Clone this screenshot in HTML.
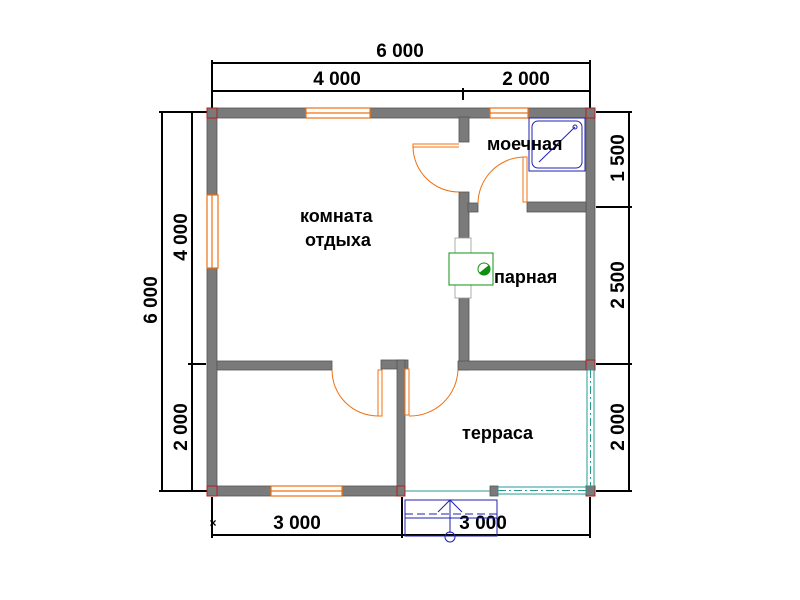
<!DOCTYPE html>
<html><head><meta charset="utf-8"><style>
html,body{margin:0;padding:0;background:#fff;width:800px;height:600px;overflow:hidden}
svg text{font-family:"Liberation Sans",Arial,sans-serif;font-weight:bold;fill:#000}
</style></head><body>
<svg width="800" height="600" viewBox="0 0 800 600" xmlns="http://www.w3.org/2000/svg">
<g stroke="#000" stroke-width="2" fill="none">
<line x1="211" y1="63" x2="591" y2="63"/>
<line x1="211" y1="91" x2="591" y2="91"/>
<line x1="212" y1="60" x2="212" y2="108"/>
<line x1="590" y1="60" x2="590" y2="108"/>
<line x1="463" y1="88" x2="463" y2="100"/>
<line x1="162" y1="111" x2="162" y2="492"/>
<line x1="192" y1="111" x2="192" y2="492"/>
<line x1="159" y1="112" x2="208" y2="112"/>
<line x1="159" y1="491" x2="208" y2="491"/>
<line x1="188" y1="364" x2="206" y2="364"/>
<line x1="629" y1="111" x2="629" y2="492"/>
<line x1="596" y1="112" x2="632" y2="112"/>
<line x1="596" y1="207" x2="632" y2="207"/>
<line x1="596" y1="364" x2="632" y2="364"/>
<line x1="596" y1="491" x2="632" y2="491"/>
<line x1="211" y1="535" x2="591" y2="535"/>
<line x1="212" y1="497" x2="212" y2="538"/>
<line x1="402" y1="497" x2="402" y2="538"/>
<line x1="590" y1="497" x2="590" y2="538"/>
</g>
<text x="400" y="57" font-size="19" text-anchor="middle">6 000</text>
<text x="337" y="85" font-size="19" text-anchor="middle">4 000</text>
<text x="526" y="85" font-size="19" text-anchor="middle">2 000</text>
<text x="297" y="529" font-size="19" text-anchor="middle">3 000</text>
<text x="483" y="529" font-size="19" text-anchor="middle">3 000</text>
<text x="213" y="527" font-size="12" text-anchor="middle" font-weight="normal">×</text>
<text transform="translate(157,300) rotate(-90)" font-size="19" text-anchor="middle">6 000</text>
<text transform="translate(187,237) rotate(-90)" font-size="19" text-anchor="middle">4 000</text>
<text transform="translate(187,427) rotate(-90)" font-size="19" text-anchor="middle">2 000</text>
<text transform="translate(624,158) rotate(-90)" font-size="19" text-anchor="middle">1 500</text>
<text transform="translate(624,285) rotate(-90)" font-size="19" text-anchor="middle">2 500</text>
<text transform="translate(624,427) rotate(-90)" font-size="19" text-anchor="middle">2 000</text>
<g fill="#7a7a7a" stroke="#555" stroke-width="0.8">
<rect x="207" y="108" width="99" height="10"/>
<rect x="370" y="108" width="120" height="10"/>
<rect x="528" y="108" width="67" height="10"/>
<rect x="207" y="108" width="10" height="87"/>
<rect x="207" y="268" width="10" height="228"/>
<rect x="586" y="108" width="9" height="262"/>
<rect x="459" y="117" width="10" height="25"/>
<rect x="459" y="192" width="10" height="178"/>
<rect x="468" y="203" width="10" height="9"/>
<rect x="527" y="202" width="59" height="10"/>
<rect x="217" y="361" width="115" height="9"/>
<rect x="381" y="360" width="27" height="9"/>
<rect x="458" y="361" width="128" height="9"/>
<rect x="397" y="360" width="8" height="136"/>
<rect x="207" y="486" width="64" height="10"/>
<rect x="342" y="486" width="63" height="10"/>
<rect x="490" y="486" width="8" height="10"/>
<rect x="586" y="486" width="9" height="10"/>
</g>
<g stroke="#b02020" stroke-width="1" fill="none">
<rect x="207" y="108" width="10" height="10"/><rect x="586" y="108" width="9" height="10"/>
<rect x="207" y="486" width="10" height="10"/><rect x="586" y="360" width="9" height="10"/>
<rect x="586" y="486" width="9" height="10"/><rect x="397" y="486" width="8" height="10"/>
</g>
<g fill="#fff" stroke="#f07010" stroke-width="1.2">
<rect x="306" y="108" width="64" height="10"/><line x1="306" y1="113" x2="370" y2="113"/>
<rect x="490" y="108" width="38" height="10"/><line x1="490" y1="113" x2="528" y2="113"/>
<rect x="207" y="195" width="11" height="73"/><line x1="212" y1="195" x2="212" y2="268"/>
<rect x="271" y="486" width="71" height="10"/><line x1="271" y1="491" x2="342" y2="491"/>
</g>
<g fill="none" stroke="#f07010" stroke-width="1">
<path d="M459 144 L413 144 L413 147 L459 147"/>
<path d="M413 147 A46 46 0 0 0 459 192"/>
<rect x="523" y="157" width="4" height="45"/>
<path d="M523 157 A47 47 0 0 0 478 204"/>
<rect x="378" y="370" width="4" height="46"/>
<path d="M332 370 A46 46 0 0 0 378 416"/>
<rect x="405" y="369" width="4" height="46"/>
<path d="M458 370 A48 48 0 0 1 409 416"/>
</g>
<rect x="529" y="118" width="56" height="53" fill="none" stroke="#2020b0" stroke-width="1"/>
<rect x="532" y="121" width="50" height="47" rx="6" fill="none" stroke="#2020b0" stroke-width="1"/>
<line x1="539" y1="162" x2="575" y2="127" stroke="#2020b0"/>
<circle cx="575" cy="127" r="2" fill="none" stroke="#2020b0"/>
<rect x="455" y="238" width="16" height="60" fill="#fff" stroke="#999" stroke-width="0.8"/>
<rect x="449" y="253" width="44" height="32" fill="#fff" stroke="#109010" stroke-width="1"/>
<circle cx="484" cy="269" r="6" fill="#fff" stroke="#109010"/>
<path d="M479 273 A6 6 0 0 0 489 265 Z" fill="#109010"/>
<g stroke="#2a9a90" stroke-width="1" fill="none">
<line x1="405" y1="491" x2="490" y2="491"/>
<rect x="498" y="487" width="88" height="7"/>
<line x1="498" y1="490.5" x2="586" y2="490.5" stroke-dasharray="8 3 2 3"/>
<rect x="587" y="370" width="7" height="116"/>
<line x1="590.5" y1="370" x2="590.5" y2="486" stroke-dasharray="8 3 2 3"/>
</g>
<g stroke="#2020b0" stroke-width="1" fill="none">
<rect x="405" y="500" width="92" height="36"/>
<line x1="405" y1="518" x2="497" y2="518"/>
<line x1="405" y1="514" x2="497" y2="514" stroke-dasharray="8 4"/>
<line x1="450" y1="500" x2="450" y2="533"/>
<path d="M438 512 L450 500 L462 512"/>
<circle cx="450" cy="537" r="5"/>
</g>
<text x="300" y="222" font-size="18">комната</text>
<text x="305" y="246" font-size="18">отдыха</text>
<text x="487" y="150" font-size="18">моечная</text>
<text x="494" y="283" font-size="18">парная</text>
<text x="462" y="439" font-size="18">терраса</text>
</svg>
</body></html>
